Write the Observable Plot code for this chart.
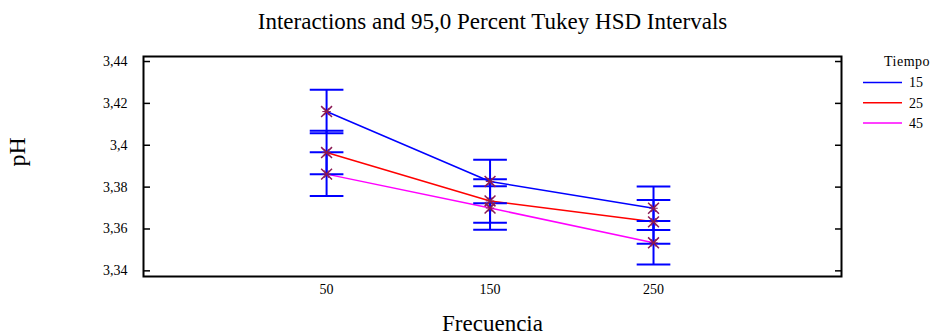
<!DOCTYPE html>
<html><head><meta charset="utf-8">
<script src="https://cdn.jsdelivr.net/npm/d3@7"></script>
<script src="https://cdn.jsdelivr.net/npm/@observablehq/plot@0.6"></script>
<style>body{margin:0;background:#fff}</style>
</head><body><div id="chart"></div>
<script>
const title = "Interactions and 95,0 Percent Tukey HSD Intervals";
const xLabel = "Frecuencia";
const yLabel = "pH";
const legendTitle = "Tiempo";
const frecuencia = [50, 150, 250];
const tiempo = ["15", "25", "45"];
const ph15 = [3.4161, 3.3827, 3.3699];
const ph25 = [3.3965, 3.3734, 3.3634];
const ph45 = [3.3862, 3.3700, 3.3534];
const halfInterval = 0.0104;
const yTicks = [3.34, 3.36, 3.38, 3.40, 3.42, 3.44];
const colors = ["#0000ff", "#ff0000", "#ff00ff"];

const series = [ph15, ph25, ph45];
const data = [];
tiempo.forEach((t, i) => frecuencia.forEach((f, j) => data.push({t, f, ph: series[i][j]})));

const fmt = d => String(+d.toFixed(2)).replace(".", ",");
const capHalf = 10.3;
const font = "'Liberation Serif', 'Times New Roman', serif";

const chart = Plot.plot({
  width: 940, height: 336,
  marginLeft: 143, marginRight: 99, marginTop: 56, marginBottom: 60,
  style: {fontFamily: font, fontSize: "14px", background: "#fff"},
  x: {domain: [-62, 365]},
  y: {domain: [3.3373, 3.4424]},
  color: {domain: tiempo, range: colors},
  marks: [
    Plot.line(data, {x: "f", y: "ph", z: "t", stroke: "t", strokeWidth: 1.5}),
    Plot.ruleX(data, {x: "f", y1: d => d.ph - halfInterval, y2: d => d.ph + halfInterval, stroke: "#0000ff", strokeWidth: 2}),
    Plot.link(data, {x1: d => d.f - capHalf, x2: d => d.f + capHalf, y1: d => d.ph - halfInterval, y2: d => d.ph - halfInterval, stroke: "#0000ff", strokeWidth: 2}),
    Plot.link(data, {x1: d => d.f - capHalf, x2: d => d.f + capHalf, y1: d => d.ph + halfInterval, y2: d => d.ph + halfInterval, stroke: "#0000ff", strokeWidth: 2}),
    Plot.dot(data, {x: "f", y: "ph", symbol: "times", r: 5, stroke: "#8b1a55", strokeWidth: 1.5}),
    Plot.dot(data, {x: "f", y: "ph", symbol: "asterisk", rotate: 90, r: 4, stroke: "#8b1a55", strokeWidth: 1}),
    Plot.axisY({ticks: yTicks, tickFormat: fmt, tickSize: 0, tickPadding: 16, fontSize: 14, fontFamily: font, label: null}),
    Plot.axisY({ticks: yTicks, tickSize: -7, text: null, label: null, strokeWidth: 1.5}),
    Plot.axisY({anchor: "right", ticks: yTicks, tickSize: -7, text: null, label: null, strokeWidth: 1.5}),
    Plot.axisX({ticks: frecuencia, tickFormat: d => String(d), tickSize: 0, tickPadding: 8, fontSize: 14, fontFamily: font, label: null}),
    Plot.frame({stroke: "#000", strokeWidth: 2}),
    Plot.text([title], {frameAnchor: "top", lineAnchor: "middle", dy: -35, fontSize: 23, fill: "#000"}),
    Plot.text([xLabel], {frameAnchor: "bottom", lineAnchor: "middle", dy: 47, fontSize: 23, fill: "#000"}),
    Plot.text([yLabel], {frameAnchor: "left", dx: -126, dy: 0, rotate: -90, fontSize: 24, fill: "#000"})
  ]
});
document.getElementById("chart").appendChild(chart);

// legend
const svg = d3.select(chart);
const lg = svg.append("g").attr("font-family", font).attr("font-size", 14);
lg.append("text").attr("x", 907).attr("y", 61).attr("text-anchor", "middle").attr("dy", "0.35em").attr("letter-spacing", "0.5px").text(legendTitle);
tiempo.forEach((t, i) => {
  const y = 82.5 + i * 20.3;
  lg.append("line").attr("x1", 863).attr("x2", 902).attr("y1", y).attr("y2", y).attr("stroke", colors[i]).attr("stroke-width", 1.5);
  lg.append("text").attr("x", 916).attr("y", y).attr("dy", "0.35em").text(t);
});
</script></body></html>
